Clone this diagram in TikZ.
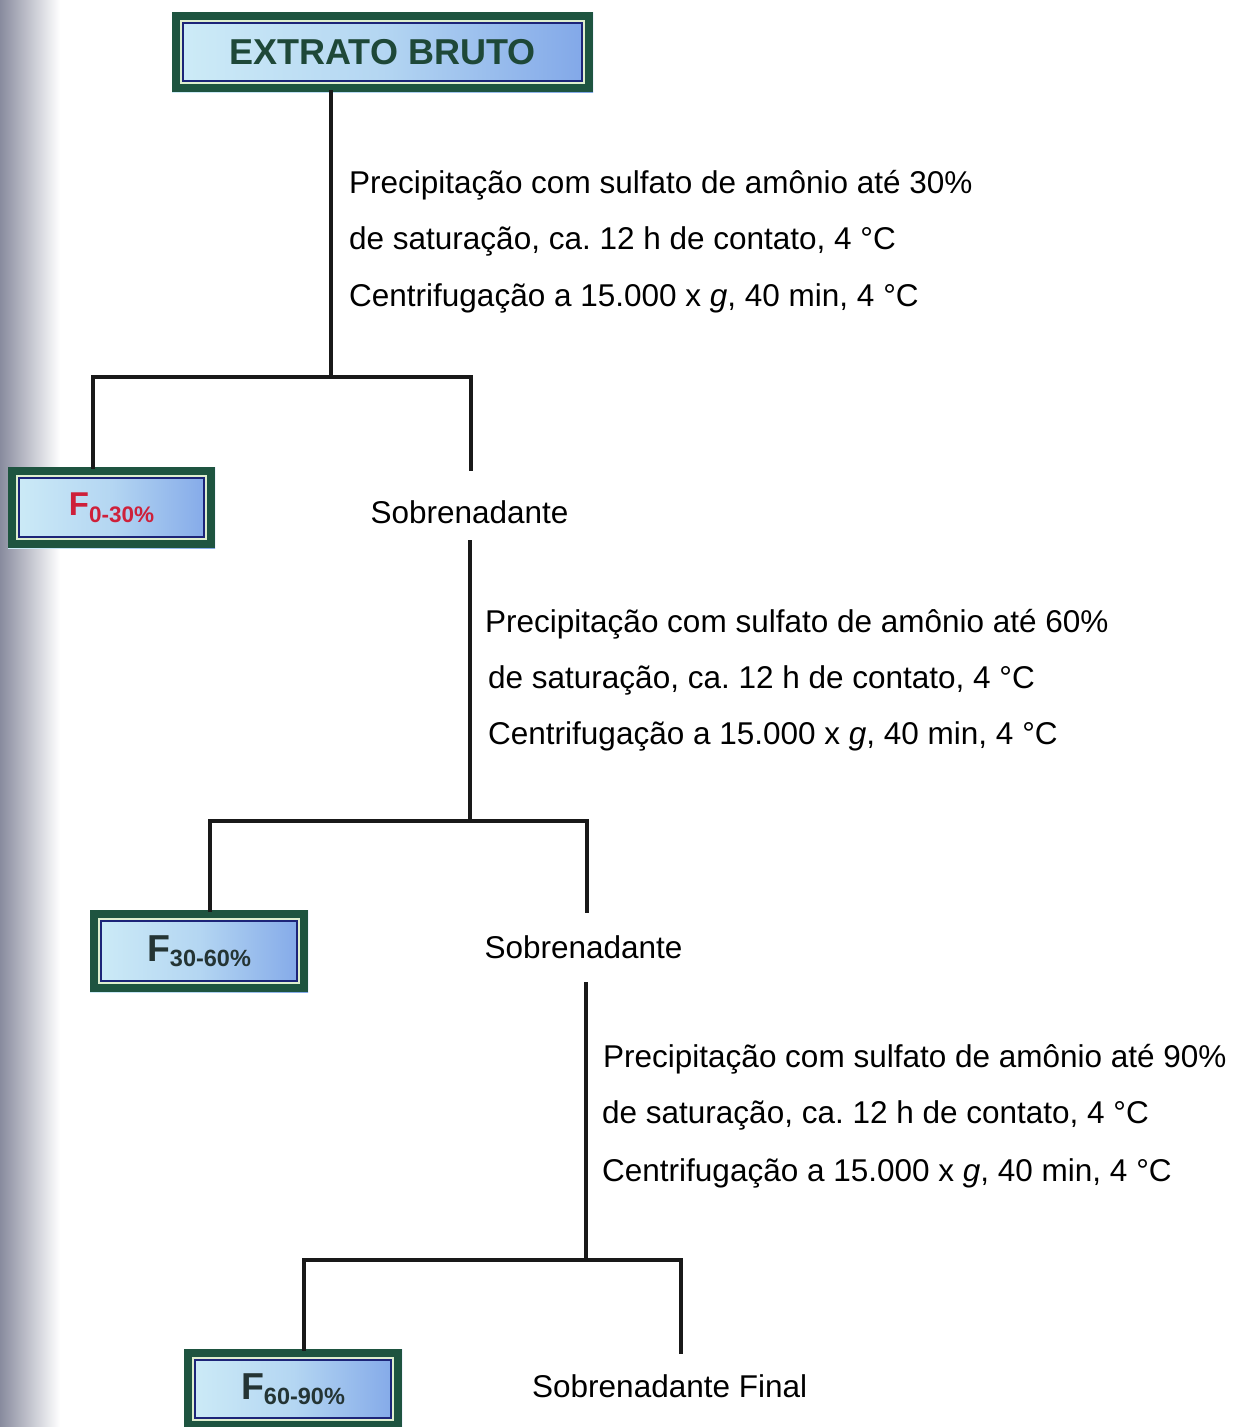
\documentclass[tikz,border=0pt]{standalone}
\usepackage{fontspec}
\setmainfont{Liberation Sans}
\frenchspacing
\definecolor{boxgreen}{RGB}{30,84,64}
\definecolor{boxblue}{RGB}{28,36,120}
\definecolor{boxlight}{RGB}{222,238,206}
\definecolor{filllight}{RGB}{206,236,247}
\definecolor{fillmid}{RGB}{180,214,242}
\definecolor{filldark}{RGB}{128,166,232}
\definecolor{titlegreen}{RGB}{30,72,56}
\definecolor{fred}{RGB}{206,32,58}
\definecolor{fdark}{RGB}{36,52,52}
\definecolor{scang}{RGB}{136,139,158}
\tikzset{
  fbox/.style={inner sep=0pt, outer sep=0pt,
    left color=filllight, right color=filldark, middle color=fillmid,
    path picture={
      \draw[boxgreen, line width=8pt]
        ([shift={(4pt,-4pt)}]path picture bounding box.north west) rectangle
        ([shift={(-4pt,4pt)}]path picture bounding box.south east);
      \draw[boxlight, line width=2pt]
        ([shift={(9pt,-9pt)}]path picture bounding box.north west) rectangle
        ([shift={(-9pt,9pt)}]path picture bounding box.south east);
      \draw[boxblue, line width=2.5pt]
        ([shift={(11.2pt,-11.2pt)}]path picture bounding box.north west) rectangle
        ([shift={(-11.2pt,11.2pt)}]path picture bounding box.south east);
    }},
  txt/.style={inner sep=0pt, anchor=base west, font=\fontsize{31.5}{36}\selectfont},
  lbl/.style={inner sep=0pt, font=\fontsize{31.5}{36}\selectfont},
  conn/.style={line width=3.6pt, line join=miter, line cap=rect, black!90}
}
\begin{document}
\begin{tikzpicture}[x=1pt,y=-1pt]
\useasboundingbox (0,0) rectangle (1234,1427);
\fill[white] (0,0) rectangle (1234,1427);
\shade[left color=scang, middle color={rgb,255:red,204;green,207;blue,220}, right color=white, shading angle=90] (0,0) rectangle (60,1427);

% boxes
\node[fbox, minimum width=421pt, minimum height=80pt] (ext) at (382.5,52)
  {\fontsize{36}{36}\selectfont\bfseries\color{titlegreen}EXTRATO BRUTO};
\node[fbox, minimum width=207pt, minimum height=81pt] (f1) at (111.5,507.5)
  {\color{fred}\fontsize{33}{33}\selectfont\bfseries F\raisebox{-7pt}{\fontsize{22.5}{22.5}\selectfont 0-30\%}\hspace{8pt}};
\node[fbox, minimum width=218pt, minimum height=82pt] (f2) at (199,951)
  {\color{fdark}\fontsize{37.5}{37.5}\selectfont\bfseries F\raisebox{-5pt}{\fontsize{23.5}{23.5}\selectfont 30-60\%}};
\node[fbox, minimum width=218pt, minimum height=80pt] (f3) at (293,1389)
  {\color{fdark}\fontsize{37.5}{37.5}\selectfont\bfseries F\raisebox{-5pt}{\fontsize{23.5}{23.5}\selectfont 60-90\%}};

% labels
\node[lbl, anchor=base] (s1) at (469.5,523) {Sobrenadante};
\node[lbl, anchor=base] (s2) at (583.5,958) {Sobrenadante};
\node[lbl, anchor=base west] (s3) at (532,1397) {Sobrenadante Final};

% step texts
\node[txt] (a1) at (349,193) {Precipitação com sulfato de amônio até 30\%};
\node[txt] (a2) at (349,249) {de saturação, ca. 12 h de contato, 4 °C};
\node[txt] (a3) at (349,306) {Centrifugação a 15.000 x \textit{g}, 40 min, 4 °C};

\node[txt] (b1) at (485,632) {Precipitação com sulfato de amônio até 60\%};
\node[txt] (b2) at (488,688) {de saturação, ca. 12 h de contato, 4 °C};
\node[txt] (b3) at (488,744) {Centrifugação a 15.000 x \textit{g}, 40 min, 4 °C};

\node[txt] (c1) at (603,1067) {Precipitação com sulfato de amônio até 90\%};
\node[txt] (c2) at (602,1123) {de saturação, ca. 12 h de contato, 4 °C};
\node[txt] (c3) at (602,1181) {Centrifugação a 15.000 x \textit{g}, 40 min, 4 °C};

% junction coordinates
\coordinate (t1) at (331,94);
\coordinate (j1) at (331,377);
\coordinate (l1) at (93,377);
\coordinate (r1) at (471,377);
\coordinate (e1) at (471,469);
\coordinate (t2) at (470,542);
\coordinate (j2) at (470,821);
\coordinate (l2) at (210,821);
\coordinate (r2) at (587,821);
\coordinate (e2) at (587,911);
\coordinate (t3) at (586,984);
\coordinate (j3) at (586,1260);
\coordinate (l3) at (304,1260);
\coordinate (r3) at (681,1260);
\coordinate (e3) at (681,1352);

% connectors
\draw[conn] (ext.south -| t1) -- (j1);
\draw[conn] (l1 |- f1.north) -- (l1) -- (r1) -- (e1);
\draw[conn] (t2) -- (j2);
\draw[conn] (l2 |- f2.north) -- (l2) -- (r2) -- (e2);
\draw[conn] (t3) -- (j3);
\draw[conn] (l3 |- f3.north) -- (l3) -- (r3) -- (e3);
\end{tikzpicture}
\end{document}
